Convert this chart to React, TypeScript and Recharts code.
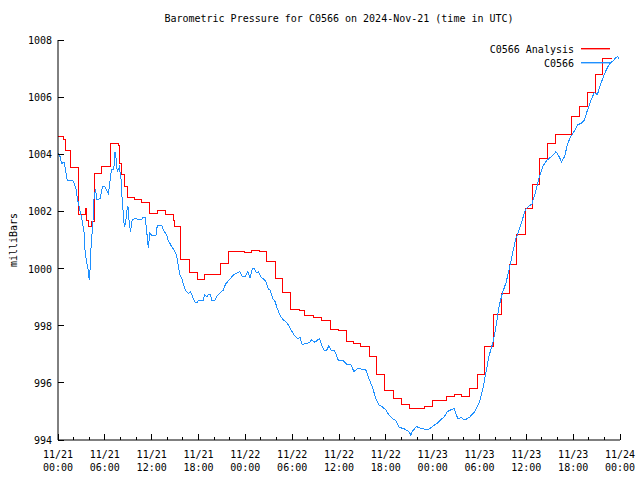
import { Line, LineChart, XAxis, YAxis } from "recharts"

const FONT = '"DejaVu Sans Mono", "Liberation Mono", monospace'
const RED = "#ff0000"
const BLUE = "#1e90ff"

// hours since 2024-11-21 00:00 UTC
const analysisHours = [
  0, 0.68, 0.98, 1.66, 2.6, 3.46, 3.67, 3.97, 4.31, 4.74, 5.59, 6.75, 7.73, 7.94, 8.16, 8.58, 8.88, 9.86, 10.72,
  11.66, 12.72, 13.8, 14.8, 14.9, 15.7, 16.9, 17.85, 18.83, 20.84, 21.9, 23.9, 24.8, 25.87, 26.7, 27.9, 28.8, 29.85,
  30.9, 31.64, 32.7, 33.73, 34.9, 35.9, 36.9, 37.85, 38.8, 39.9, 40.85, 41.8, 43.0, 43.95, 45.0, 46.95, 48.0, 49.8,
  50.75, 51.75, 52.75, 53.76, 54.7, 55.75, 56.8, 57.86, 58.8, 59.9, 60.76, 61.75, 62.73, 63.8, 65.76, 66.77, 67.8,
  68.9, 69.8, 70.93,
]
const analysisValues = [
  1004.64, 1004.52, 1004.15, 1003.54, 1001.9, 1002.11, 1001.7, 1001.49, 1001.64, 1003.33, 1003.59, 1004.38, 1004.32,
  1003.68, 1003.28, 1002.87, 1002.49, 1002.42, 1002.31, 1001.93, 1002.02, 1001.88, 1001.7, 1001.47, 1000.32, 999.88,
  999.62, 999.8, 1000.18, 1000.59, 1000.57, 1000.64, 1000.59, 1000.25, 999.66, 999.17, 998.57, 998.54, 998.36, 998.29,
  998.17, 997.87, 997.84, 997.46, 997.37, 997.29, 996.92, 996.28, 995.72, 995.46, 995.23, 995.09, 995.17, 995.38,
  995.53, 995.6, 995.53, 995.81, 996.3, 997.29, 998.38, 999.13, 1000.13, 1001.18, 1002.1, 1002.96, 1003.86, 1004.38,
  1004.71, 1005.34, 1005.69, 1006.18, 1006.78, 1007.36, 1007.36,
]

const obsHours = [
  0.05, 0.3, 0.45, 0.8, 1.0, 1.2, 1.6, 1.85, 2.1, 2.3, 2.45, 2.7, 2.95, 3.16, 3.33, 3.46, 3.67, 3.8, 4.01, 4.1, 4.18,
  4.31, 4.44, 4.6, 4.8, 5.0, 5.4, 5.7, 6.0, 6.2, 6.45, 6.6, 6.85, 7.15, 7.3, 7.43, 7.6, 7.85, 8.07, 8.2, 8.45, 8.55,
  8.7, 8.9, 9.0, 9.1, 9.28, 9.5, 9.86, 10.3, 10.7, 10.9, 11.15, 11.35, 11.57, 11.75, 12.0, 12.3, 12.55, 12.72, 13.3,
  13.5, 13.92, 14.1, 14.56, 14.9, 15.2, 15.4, 15.6, 15.85, 16.05, 16.3, 16.7, 17.0, 17.3, 17.6, 17.8, 18.0, 18.6,
  18.8, 19.05, 19.3, 19.5, 19.7, 20.1, 20.4, 20.85, 21.2, 21.45, 21.9, 22.4, 22.7, 23.0, 23.3, 23.6, 24.0, 24.3, 24.6,
  24.9, 25.15, 25.4, 25.7, 26.0, 26.3, 26.6, 26.75, 26.95, 27.2, 27.5, 27.8, 28.1, 28.5, 28.9, 29.4, 29.85, 30.3,
  30.7, 31.0, 31.3, 31.75, 32.15, 32.5, 32.9, 33.5, 33.8, 34.1, 34.4, 34.7, 34.97, 35.4, 35.7, 35.9, 36.5, 37.1, 37.5,
  37.9, 38.4, 38.9, 39.4, 39.85, 40.3, 40.7, 41.1, 41.6, 42.0, 42.4, 42.9, 43.3, 43.7, 44.3, 45.0, 45.2, 45.4, 45.9,
  46.6, 47.4, 48.2, 48.6, 49.0, 49.5, 49.9, 50.3, 50.75, 51.2, 51.7, 52.1, 52.7, 53.4, 54.0, 54.4, 54.8, 55.2, 55.7,
  56.1, 56.5, 56.9, 57.4, 57.8, 58.2, 58.6, 59.1, 59.5, 59.9, 60.4, 60.7, 61.2, 61.6, 62.1, 62.6, 63.2, 63.8, 64.2,
  64.5, 64.9, 65.3, 65.7, 66.1, 66.55, 67.0, 67.4, 67.8, 68.3, 68.7, 69.1, 69.5, 69.95, 70.4, 70.7, 71.15, 71.45, 71.7,
  71.85,
]
const obsValues = [
  1004.03, 1003.9, 1003.68, 1003.72, 1003.38, 1003.07, 1003.1, 1003.1, 1002.96, 1002.79, 1002.5, 1002.17, 1001.87,
  1001.58, 1001.29, 1000.65, 1000.19, 1000.1, 999.6, 999.95, 1000.47, 1001.1, 1001.4, 1002.4, 1002.8, 1002.4, 1002.46,
  1002.87, 1002.87, 1002.75, 1002.63, 1002.92, 1003.48, 1003.47, 1004.09, 1003.86, 1003.39, 1003.55, 1003.16, 1002.52,
  1001.6, 1001.47, 1001.7, 1002.17, 1002.15, 1001.7, 1001.28, 1001.7, 1001.76, 1001.72, 1001.72, 1001.8, 1001.8,
  1001.35, 1000.71, 1001.24, 1001.17, 1001.15, 1001.15, 1001.51, 1001.5, 1001.35, 1001.17, 1001.0, 1000.77, 1000.63,
  1000.47, 1000.1, 999.8, 999.66, 999.48, 999.25, 999.13, 999.19, 998.96, 998.8, 998.8, 998.9, 998.9, 999.07, 999.01,
  999.1, 999.1, 998.9, 998.9, 999.05, 999.18, 999.25, 999.45, 999.6, 999.75, 999.82, 999.85, 999.89, 999.74, 999.72,
  999.89, 999.68, 1000.0, 1000.0, 999.85, 999.89, 999.7, 999.65, 999.55, 999.45, 999.28, 999.25, 998.95, 998.85,
  998.6, 998.33, 998.2, 998.08, 997.85, 997.66, 997.55, 997.59, 997.34, 997.38, 997.4, 997.5, 997.42, 997.55, 997.3,
  997.13, 997.13, 997.3, 997.15, 997.12, 996.95, 996.8, 996.78, 996.63, 996.66, 996.4, 996.5, 996.48, 996.48, 996.14,
  995.84, 995.46, 995.23, 995.15, 995.05, 994.87, 994.74, 994.68, 994.44, 994.4, 994.28, 994.17, 994.3, 994.47, 994.4,
  994.35, 994.52, 994.58, 994.7, 994.82, 995.0, 995.05, 995.11, 994.76, 994.78, 994.7, 994.79, 994.99, 995.32, 995.75,
  996.33, 996.92, 997.4, 997.95, 998.67, 999.11, 999.51, 999.97, 1000.48, 1001.0, 1001.37, 1001.72, 1002.07, 1002.2,
  1002.25, 1002.69, 1003.16, 1003.57, 1003.78, 1003.92, 1004.09, 1003.92, 1003.74, 1003.92, 1004.38, 1004.62, 1004.79,
  1005.03, 1005.08, 1005.18, 1005.52, 1005.9, 1006.16, 1006.09, 1006.43, 1006.78, 1007.04, 1007.18, 1007.28, 1007.39,
  1007.42, 1007.35,
]

const majorHours = [0, 6, 12, 18, 24, 30, 36, 42, 48, 54, 60, 66, 72]
const tickDates = ["11/21", "11/21", "11/21", "11/21", "11/22", "11/22", "11/22", "11/22", "11/23", "11/23", "11/23", "11/23", "11/24"]
const tickTimes = ["00:00", "06:00", "12:00", "18:00", "00:00", "06:00", "12:00", "18:00", "00:00", "06:00", "12:00", "18:00", "00:00"]
const hourTicks = Array.from({ length: 37 }, (_, i) => i * 2)
const pressureTicks = [994, 996, 998, 1000, 1002, 1004, 1006, 1008]

const seriesNames = ["C0566 Analysis", "C0566"]
const seriesColors = [RED, BLUE]

const analysisData = analysisHours.map((h, i) => ({ h, p: analysisValues[i] }))
const obsData = obsHours.map((h, i) => ({ h, p: obsValues[i] }))

const textStyle = { fontFamily: FONT, fontSize: 10, fill: "#000" }

function BottomTick({ x, y, payload }: any) {
  const idx = majorHours.indexOf(payload.value)
  return (
    <g>
      <line x1={x} x2={x} y1={y} y2={y - (idx >= 0 ? 6 : 3)} stroke="#000" shapeRendering="crispEdges" />
      {idx >= 0 && (
        <text textAnchor="middle" {...textStyle}>
          <tspan x={x} y={y + 18}>{tickDates[idx]}</tspan>
          <tspan x={x} y={y + 31}>{tickTimes[idx]}</tspan>
        </text>
      )}
    </g>
  )
}

function TopTick({ x, y, payload }: any) {
  const major = majorHours.includes(payload.value)
  return <line x1={x} x2={x} y1={y} y2={y + (major ? 6 : 3)} stroke="#000" shapeRendering="crispEdges" />
}

function LeftTick({ x, y, payload }: any) {
  return (
    <g>
      <line x1={x} x2={x + 6} y1={y} y2={y} stroke="#000" shapeRendering="crispEdges" />
      <text x={x - 6} y={y + 4} textAnchor="end" {...textStyle}>
        {payload.value}
      </text>
    </g>
  )
}

function RightTick({ x, y }: any) {
  return <line x1={x} x2={x - 6} y1={y} y2={y} stroke="#000" shapeRendering="crispEdges" />
}

function YTitle({ viewBox }: any) {
  const cx = viewBox.x + 13
  const cy = viewBox.y + viewBox.height / 2
  return (
    <text transform={`translate(${cx},${cy}) rotate(-90)`} textAnchor="middle" dominantBaseline="central" {...textStyle}>
      milliBars
    </text>
  )
}

export default function App() {
  return (
    <div style={{ position: "absolute", left: 0, top: 0, width: 640, height: 480, background: "#fff", fontFamily: FONT }}>
      <div
        style={{
          position: "absolute",
          left: 58,
          width: 562,
          top: 13,
          textAlign: "center",
          fontSize: 10,
          lineHeight: "12px",
          color: "#000",
        }}
      >
        Barometric Pressure for C0566 on 2024-Nov-21 (time in UTC)
      </div>
      <LineChart width={640} height={480} margin={{ top: 40, right: 20, bottom: 0, left: 0 }}>
        <XAxis
          xAxisId="bottom"
          dataKey="h"
          type="number"
          domain={[0, 72]}
          ticks={hourTicks}
          interval={0}
          height={40}
          tickSize={0}
          tickMargin={0}
          tickLine={false}
          axisLine={{ stroke: "#000" }}
          tick={<BottomTick />}
          allowDataOverflow
        />
        <XAxis
          xAxisId="top"
          orientation="top"
          type="number"
          domain={[0, 72]}
          ticks={hourTicks}
          interval={0}
          height={0}
          tickSize={0}
          tickMargin={0}
          tickLine={false}
          axisLine={{ stroke: "#000" }}
          tick={<TopTick />}
        />
        <YAxis
          yAxisId="left"
          type="number"
          domain={[994, 1008]}
          ticks={pressureTicks}
          interval={0}
          width={58}
          tickSize={0}
          tickMargin={0}
          tickLine={false}
          axisLine={{ stroke: "#000" }}
          tick={<LeftTick />}
          label={{ content: (props: any) => <YTitle {...props} /> }}
          allowDataOverflow
        />
        <YAxis
          yAxisId="right"
          orientation="right"
          type="number"
          domain={[994, 1008]}
          ticks={pressureTicks}
          interval={0}
          width={0}
          tickSize={0}
          tickMargin={0}
          tickLine={false}
          axisLine={{ stroke: "#000" }}
          tick={<RightTick />}
        />
        <Line
          xAxisId="bottom"
          yAxisId="left"
          data={analysisData}
          dataKey="p"
          name={seriesNames[0]}
          type="stepAfter"
          stroke={RED}
          strokeWidth={1}
          shapeRendering="crispEdges"
          dot={false}
          isAnimationActive={false}
        />
        <Line
          xAxisId="bottom"
          yAxisId="left"
          data={obsData}
          dataKey="p"
          name={seriesNames[1]}
          type="linear"
          stroke={BLUE}
          strokeWidth={1}
          shapeRendering="crispEdges"
          dot={false}
          isAnimationActive={false}
        />
      </LineChart>
      <div style={{ position: "absolute", top: 42, right: 30, fontSize: 10, color: "#000" }}>
        {seriesNames.map((name, i) => (
          <div key={name} style={{ display: "flex", justifyContent: "flex-end", alignItems: "center", height: 14 }}>
            <span>{name}</span>
            <svg width={29} height={2} style={{ display: "block", marginLeft: 7 }}>
              <rect x={0} y={0} width={29} height={1.4} fill={seriesColors[i]} />
            </svg>
          </div>
        ))}
      </div>
    </div>
  )
}
